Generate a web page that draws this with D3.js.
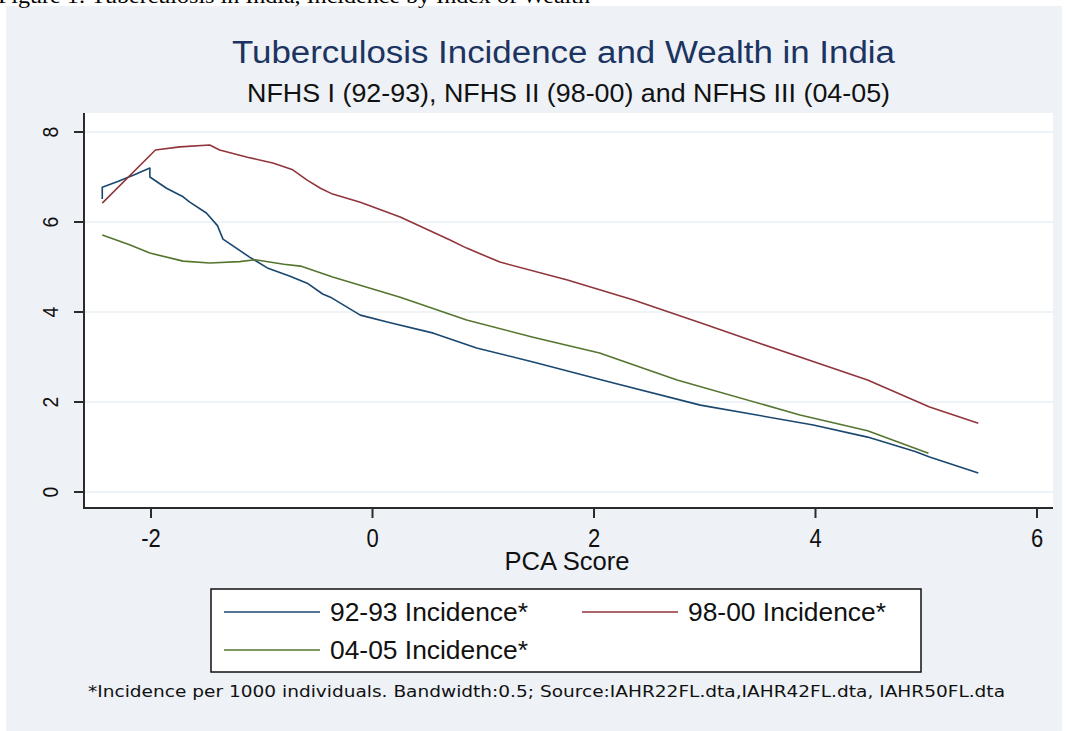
<!DOCTYPE html>
<html><head><meta charset="utf-8">
<script src="https://cdn.jsdelivr.net/npm/d3@7"></script>
<style>
html,body{margin:0;padding:0;background:#fff;}
svg{display:block;}
text{font-family:"Liberation Sans",Arial,sans-serif;}
</style></head>
<body>
<svg id="chart" width="1072" height="731"></svg>
<script>
// ---- data ----
const title = "Tuberculosis Incidence and Wealth in India";
const subtitle = "NFHS I (92-93), NFHS II (98-00) and NFHS III (04-05)";
const caption = "Figure 1: Tuberculosis in India, Incidence by Index of Wealth";
const xLabel = "PCA Score";
const footnote = "*Incidence per 1000 individuals. Bandwidth:0.5; Source:IAHR22FL.dta,IAHR42FL.dta, IAHR50FL.dta";
const xTicks = [-2, 0, 2, 4, 6];
const yTicks = [0, 2, 4, 6, 8];
const seriesNames = ["92-93 Incidence*", "98-00 Incidence*", "04-05 Incidence*"];

const x9293 = [-2.44,-2.44,-2.30,-2.15,-2.01,-2.01,-1.86,-1.71,-1.65,-1.50,-1.40,-1.35,-1.11,-0.95,-0.75,-0.59,-0.45,-0.38,-0.11,0.16,0.55,0.94,1.45,2.15,2.96,3.98,4.47,4.90,5.03,5.47];
const y9293 = [6.51,6.77,6.90,7.05,7.20,7.00,6.75,6.56,6.44,6.20,5.92,5.62,5.22,4.98,4.80,4.64,4.40,4.33,3.93,3.76,3.53,3.20,2.89,2.44,1.93,1.49,1.22,0.90,0.78,0.42];

const x9800 = [-2.44,-1.96,-1.74,-1.47,-1.38,-1.13,-0.90,-0.72,-0.59,-0.47,-0.36,-0.11,0.25,0.70,0.85,1.15,1.76,2.35,2.96,3.50,4.47,5.03,5.47];
const y9800 = [6.42,7.60,7.67,7.71,7.60,7.44,7.31,7.16,6.93,6.75,6.62,6.44,6.11,5.60,5.42,5.11,4.71,4.27,3.76,3.30,2.49,1.89,1.53];

const x0405 = [-2.44,-2.20,-2.01,-1.71,-1.47,-1.20,-1.06,-0.80,-0.65,-0.36,0.25,0.85,1.45,2.05,2.75,3.86,4.47,5.02];
const y0405 = [5.71,5.50,5.31,5.13,5.09,5.12,5.16,5.06,5.02,4.78,4.33,3.82,3.44,3.09,2.49,1.71,1.36,0.86];

const colors = ["#1a476f", "#90353b", "#55752f"];

// ---- drawing ----
const svg = d3.select("#chart");
const W = 1072, H = 731;
const plot = {left: 84, right: 1053, top: 113, bottom: 508};

svg.append("rect").attr("x",6).attr("y",6).attr("width",1056).attr("height",H-6).attr("fill","#eef1f6");

// caption (cut at top)
svg.append("text").attr("x",-2).attr("y",3).attr("textLength",592).attr("lengthAdjust","spacingAndGlyphs")
  .style("font-family","'Liberation Serif','Times New Roman',serif").style("font-size","20px").attr("fill","#000").text(caption);

svg.append("rect").attr("x",plot.left).attr("y",plot.top).attr("width",plot.right-plot.left).attr("height",plot.bottom-plot.top).attr("fill","#fff");

const x = d3.scaleLinear().domain([-2,6]).range([151,1037]);
const y = d3.scaleLinear().domain([0,8]).range([492,132]);

// grid
svg.append("g").selectAll("line").data(yTicks).join("line")
  .attr("x1",plot.left).attr("x2",plot.right).attr("y1",d=>y(d)).attr("y2",d=>y(d))
  .attr("stroke","#e9eff6").attr("stroke-width",1.5);

// lines (Stata order: first series drawn first)
const series = [
  {xs:x9293, ys:y9293, c:colors[0]},
  {xs:x9800, ys:y9800, c:colors[1]},
  {xs:x0405, ys:y0405, c:colors[2]}
];
const line = d3.line().x(d=>x(d[0])).y(d=>y(d[1]));
series.forEach(s=>{
  svg.append("path").attr("d", line(s.xs.map((v,i)=>[v,s.ys[i]])))
    .attr("fill","none").attr("stroke",s.c).attr("stroke-width",1.6).attr("stroke-linejoin","round");
});

// axes
const axisColor = "#2b2b2b";
svg.append("line").attr("x1",plot.left).attr("x2",plot.left).attr("y1",plot.top).attr("y2",plot.bottom+1)
  .attr("stroke",axisColor).attr("stroke-width",2);
svg.append("line").attr("x1",plot.left-1).attr("x2",plot.right).attr("y1",plot.bottom).attr("y2",plot.bottom)
  .attr("stroke",axisColor).attr("stroke-width",2);

// y ticks
const yAxis = svg.append("g");
yAxis.selectAll("line").data(yTicks).join("line")
  .attr("x1",plot.left-10).attr("x2",plot.left).attr("y1",d=>y(d)).attr("y2",d=>y(d))
  .attr("stroke",axisColor).attr("stroke-width",2);
yAxis.selectAll("text").data(yTicks).join("text")
  .attr("transform",d=>`translate(58,${y(d)}) rotate(-90) scale(0.88,1)`)
  .attr("text-anchor","middle").style("font-size","22px").attr("fill","#111").text(d=>d);

// x ticks
const xAxis = svg.append("g");
xAxis.selectAll("line").data(xTicks).join("line")
  .attr("x1",d=>x(d)).attr("x2",d=>x(d)).attr("y1",plot.bottom).attr("y2",plot.bottom+10)
  .attr("stroke",axisColor).attr("stroke-width",2);
xAxis.selectAll("text").data(xTicks).join("text")
  .attr("transform",d=>`translate(${x(d)},547) scale(0.88,1)`).attr("text-anchor","middle")
  .style("font-size","25px").attr("fill","#111")
  .text(d=>d<0 ? "-"+Math.abs(d) : d);

svg.append("text").attr("x",567).attr("y",570).attr("text-anchor","middle").style("font-size","26px").attr("fill","#111")
  .attr("textLength",125).attr("lengthAdjust","spacingAndGlyphs").text(xLabel);

// titles
svg.append("text").attr("x",563.5).attr("y",63).attr("text-anchor","middle").style("font-size","31px").attr("fill","#1c3461")
  .attr("textLength",663).attr("lengthAdjust","spacingAndGlyphs").text(title);
svg.append("text").attr("x",568.5).attr("y",102).attr("text-anchor","middle").style("font-size","26px").attr("fill","#111")
  .attr("textLength",643).attr("lengthAdjust","spacingAndGlyphs").text(subtitle);

// legend
const lg = svg.append("g");
lg.append("rect").attr("x",211).attr("y",589).attr("width",710).attr("height",83).attr("fill","#fff")
  .attr("stroke","#111").attr("stroke-width",1.5);
const legPos = [{lx:224, ly:612}, {lx:582, ly:612}, {lx:224, ly:650}];
seriesNames.forEach((n,i)=>{
  const p = legPos[i];
  lg.append("line").attr("x1",p.lx).attr("x2",p.lx+96).attr("y1",p.ly).attr("y2",p.ly).attr("stroke",colors[i]).attr("stroke-width",1.6);
  lg.append("text").attr("x",p.lx+106).attr("y",p.ly+9).style("font-size","25px").attr("fill","#111")
    .attr("textLength",198).attr("lengthAdjust","spacingAndGlyphs").text(n);
});

// footnote
svg.append("text").attr("x",88).attr("y",697).style("font-family","'DejaVu Sans',Verdana,sans-serif").style("font-size","15px").attr("fill","#111")
  .attr("textLength",917).attr("lengthAdjust","spacingAndGlyphs").text(footnote);
</script>
</body></html>
